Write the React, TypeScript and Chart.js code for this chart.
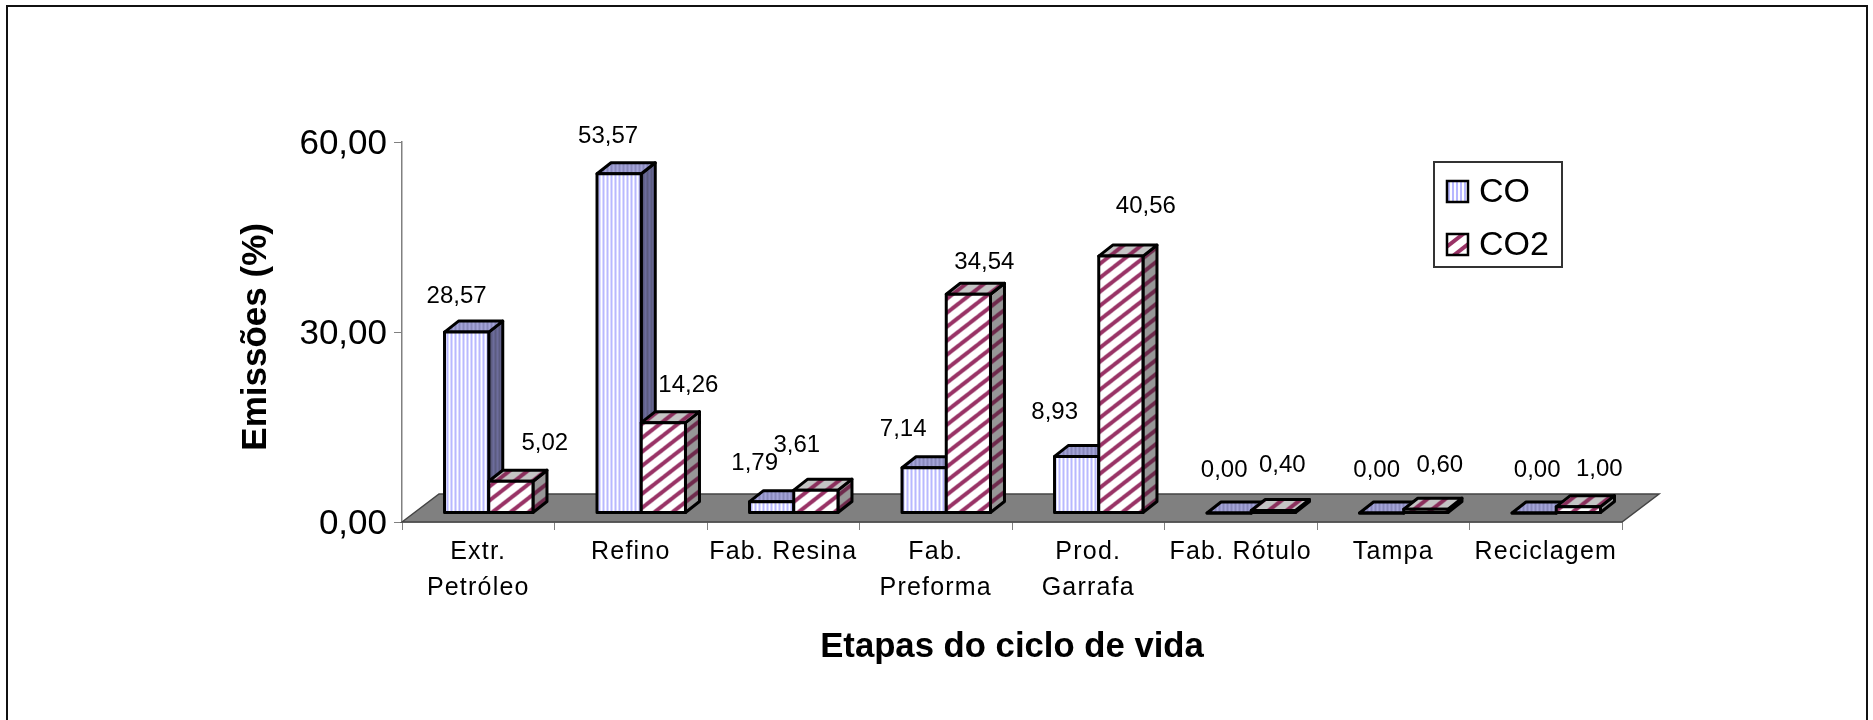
import React, { useEffect, useRef } from "react";
import { Chart, registerables } from "chart.js";

Chart.register(...registerables);

const categories = [
  ["Extr.", "Petróleo"],
  "Refino",
  "Fab. Resina",
  ["Fab.", "Preforma"],
  ["Prod.", "Garrafa"],
  "Fab. Rótulo",
  "Tampa",
  "Reciclagem",
];
const coValues = [28.57, 53.57, 1.79, 7.14, 8.93, 0, 0, 0];
const co2Values = [5.02, 14.26, 3.61, 34.54, 40.56, 0.4, 0.6, 1.0];
const coLabelShiftX = [-10, -11, -17, -21, -22, -5, -5, 3];
const coLabelShiftY = [-36, -37, -38, -38, -44, -43, -43, -43];
const co2LabelShiftX = [34, 25, -19, 16, 25, 9, 14, 21];
const co2LabelShiftY = [-38, -37, -45, -32, -50, -45, -44, -37];

const FONT = '"Liberation Sans", Arial, sans-serif';
const comma = (v: number) => v.toFixed(2).replace(".", ",");

function stripes(ctx: CanvasRenderingContext2D, bg: string, fg: string) {
  const c = document.createElement("canvas");
  c.width = 4;
  c.height = 4;
  const g = c.getContext("2d")!;
  g.fillStyle = bg;
  g.fillRect(0, 0, 4, 4);
  g.fillStyle = fg;
  g.fillRect(0, 0, 2, 4);
  return ctx.createPattern(c, "repeat")!;
}

function diagonal(ctx: CanvasRenderingContext2D, bg: string, fg: string) {
  const w = 18;
  const h = 14;
  const c = document.createElement("canvas");
  c.width = w;
  c.height = h;
  const g = c.getContext("2d")!;
  g.fillStyle = bg;
  g.fillRect(0, 0, w, h);
  g.strokeStyle = fg;
  g.lineWidth = 4;
  for (const o of [-w, 0, w]) {
    g.beginPath();
    g.moveTo(o - w / 2, h + h / 2);
    g.lineTo(o + w + w / 2, -h / 2);
    g.stroke();
  }
  return ctx.createPattern(c, "repeat")!;
}

export default function App() {
  const ref = useRef<HTMLCanvasElement>(null);

  useEffect(() => {
    document.body.style.margin = "0";
    const canvas = ref.current!;
    const ctx = canvas.getContext("2d")!;

    const fronts = [stripes(ctx, "#ffffff", "#b8b8ff"), diagonal(ctx, "#ffffff", "#993366")];
    const tops = [stripes(ctx, "#a4a4d8", "#8888bb"), diagonal(ctx, "#c4c4c4", "#8a2f5c")];
    const sides = [stripes(ctx, "#6c6c9c", "#5c5c80"), diagonal(ctx, "#979797", "#6e2a4c")];

    const shiftX = 10.5;
    const shiftY = -9;
    const depthX = 14;
    const depthY = -11;
    const floorX = 37;
    const floorY = -28;

    const face = (c: CanvasRenderingContext2D, pts: number[][], fill: CanvasPattern) => {
      c.beginPath();
      pts.forEach((p, i) => (i ? c.lineTo(p[0], p[1]) : c.moveTo(p[0], p[1])));
      c.closePath();
      c.fillStyle = fill;
      c.fill();
      c.lineWidth = 3;
      c.strokeStyle = "#000";
      c.lineJoin = "round";
      c.stroke();
    };

    const threeD = {
      id: "threeD",
      beforeDraw(chart: any) {
        const c = chart.ctx;
        c.save();
        c.fillStyle = "#fff";
        c.fillRect(0, 0, chart.width, chart.height);
        c.strokeStyle = "#111";
        c.lineWidth = 2;
        c.beginPath();
        c.moveTo(7, chart.height);
        c.lineTo(7, 6);
        c.lineTo(1867, 6);
        c.lineTo(1867, chart.height);
        c.stroke();
        c.restore();
      },
      beforeDatasetsDraw(chart: any) {
        const c = chart.ctx;
        const { left, right, bottom } = chart.chartArea;
        c.save();
        c.beginPath();
        c.moveTo(left, bottom);
        c.lineTo(left + floorX, bottom + floorY);
        c.lineTo(right + floorX, bottom + floorY);
        c.lineTo(right, bottom);
        c.closePath();
        c.fillStyle = "#808080";
        c.fill();
        c.strokeStyle = "#444";
        c.lineWidth = 1.5;
        c.stroke();
        c.translate(shiftX, shiftY);
        // CO is painted first, so the CO2 bar in front hides its side face
        chart.data.datasets.forEach((_: any, d: number) => {
          const meta = chart.getDatasetMeta(d);
          meta.data.forEach((el: any) => {
            const l = el.x - el.width / 2;
            const r = el.x + el.width / 2;
            const t = el.y;
            const b = el.base;
            face(c, [[r, t], [r + depthX, t + depthY], [r + depthX, b + depthY], [r, b]], sides[d]);
            face(c, [[l, t], [l + depthX, t + depthY], [r + depthX, t + depthY], [r, t]], tops[d]);
          });
          meta.controller.draw();
          meta.data.forEach((el: any) => {
            c.lineWidth = 3;
            c.strokeStyle = "#000";
            c.strokeRect(el.x - el.width / 2, el.y, el.width, el.base - el.y);
          });
        });
        c.restore();
      },
      beforeDatasetDraw() {
        return false;
      },
      afterDatasetsDraw(chart: any) {
        const c = chart.ctx;
        c.save();
        c.font = `24px ${FONT}`;
        c.fillStyle = "#000";
        c.textAlign = "center";
        c.textBaseline = "middle";
        const xs = [coLabelShiftX, co2LabelShiftX];
        const ys = [coLabelShiftY, co2LabelShiftY];
        chart.data.datasets.forEach((ds: any, d: number) => {
          chart.getDatasetMeta(d).data.forEach((el: any, i: number) => {
            c.fillText(comma(ds.data[i]), el.x + shiftX + xs[d][i], el.y + shiftY + ys[d][i]);
          });
        });
        c.restore();
        // category labels (ticks.z = 1) are painted right after this hook
        c.letterSpacing = "1.2px";
      },
      afterDraw(chart: any) {
        const c = chart.ctx;
        c.letterSpacing = "0px";
        c.save();
        c.strokeStyle = "#333";
        c.lineWidth = 2;
        c.fillStyle = "#fff";
        c.beginPath();
        c.rect(1434, 162, 128, 105);
        c.fill();
        c.stroke();
        chart.data.datasets.forEach((ds: any, d: number) => {
          const y = 181 + d * 53;
          c.fillStyle = fronts[d];
          c.fillRect(1447, y, 21, 21);
          c.strokeStyle = "#000";
          c.lineWidth = 2.5;
          c.strokeRect(1447, y, 21, 21);
          c.fillStyle = "#000";
          c.font = `34px ${FONT}`;
          c.textAlign = "left";
          c.textBaseline = "middle";
          c.fillText(ds.label, 1479, y + 12);
        });
        c.restore();
      },
    };

    const chart = new Chart(canvas, {
      type: "bar",
      data: {
        labels: categories as any,
        datasets: [
          {
            label: "CO",
            data: coValues,
            backgroundColor: fronts[0],
            borderWidth: 0,
          },
          {
            label: "CO2",
            data: co2Values,
            backgroundColor: fronts[1],
            borderWidth: 0,
          },
        ],
      } as any,
      plugins: [threeD],
      options: {
        animation: false,
        responsive: false,
        layout: { padding: { left: 200, right: 251, top: 142, bottom: 0 } },
        datasets: { bar: { categoryPercentage: 0.58, barPercentage: 1 } },
        plugins: { legend: { display: false }, tooltip: { enabled: false }, title: { display: false } },
        scales: {
          x: {
            afterFit: (s: any) => {
              s.height = 198;
            },
            grid: { drawOnChartArea: false, drawTicks: true, tickLength: 8, color: "#808080", offset: true },
            border: { color: "#555", width: 1.5 },
            ticks: {
              color: "#000",
              font: { family: FONT, size: 25, lineHeight: 1.44 },
              maxRotation: 0,
              autoSkip: false,
              padding: 4,
              z: 1,
            },
            title: {
              display: true,
              text: "Etapas do ciclo de vida",
              color: "#000",
              font: { family: FONT, size: 34.7, weight: "bold" },
              padding: { top: 0, bottom: 52 },
            },
          },
          y: {
            min: 0,
            max: 60,
            afterFit: (s: any) => {
              s.width = 202;
            },
            grid: { drawOnChartArea: false, drawTicks: true, tickLength: 8, color: "#808080" },
            border: { color: "#808080", width: 1.5 },
            ticks: {
              stepSize: 30,
              color: "#000",
              font: { family: FONT, size: 35 },
              padding: 7,
              labelOffset: 2,
              callback: (v: any) => comma(Number(v)),
            },
            title: {
              display: true,
              text: "Emissões (%) ",
              color: "#000",
              font: { family: FONT, size: 35, weight: "bold" },
              padding: { top: 35, bottom: 0 },
            },
          },
        },
      } as any,
    });
    return () => chart.destroy();
  }, []);

  return (
    <div style={{ position: "absolute", left: 0, top: 0, width: 1873, height: 720 }}>
      <canvas ref={ref} width={1873} height={720} style={{ display: "block" }} />
    </div>
  );
}
